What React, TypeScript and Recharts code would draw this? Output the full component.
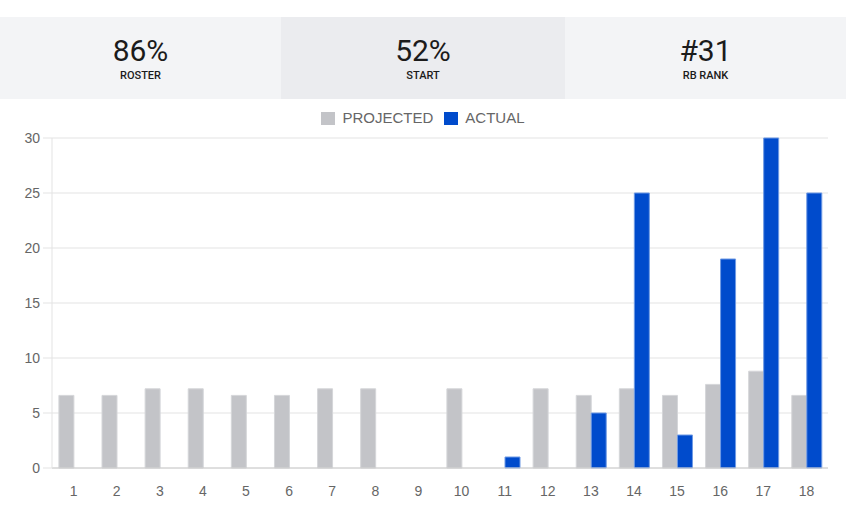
import React from "react";
import { BarChart, Bar, XAxis, YAxis, CartesianGrid } from "recharts";

const weeks = ["1", "2", "3", "4", "5", "6", "7", "8", "9", "10", "11", "12", "13", "14", "15", "16", "17", "18"];
const projected = [6.6, 6.6, 7.2, 7.2, 6.6, 6.6, 7.2, 7.2, null, 7.2, null, 7.2, 6.6, 7.2, 6.6, 7.6, 8.8, 6.6];
const actual = [null, null, null, null, null, null, null, null, null, null, 1, null, 5, 25, 3, 19, 30, 25];
const yTicks = [0, 5, 10, 15, 20, 25, 30];

const stats = [
  { value: "86%", label: "ROSTER" },
  { value: "52%", label: "START" },
  { value: "#31", label: "RB RANK" },
];

const series = [
  { key: "projected", name: "PROJECTED", fill: "#c3c4c8", stroke: "#d5d6d9" },
  { key: "actual", name: "ACTUAL", fill: "#004bcc", stroke: "#6f9ae4" },
];

const data = weeks.map((w, i) => ({ week: w, projected: projected[i], actual: actual[i] }));

const tickStyle = { fill: "#666666", fontSize: 14, fontFamily: "'Liberation Sans', Arial, sans-serif" };

export default function App() {
  return (
    <div style={{ position: "absolute", left: 0, top: 0, width: 846, height: 522, background: "#fff" }}>
      <div style={{ position: "absolute", top: 17, left: 0, width: 846, height: 82, display: "flex" }}>
        {stats.map((s, i) => (
          <div
            key={s.label}
            style={{
              width: i === 1 ? 284 : 281,
              height: 82,
              background: i === 1 ? "#ebecef" : "#f3f4f6",
              textAlign: "center",
              fontFamily: "Roboto, sans-serif",
              color: "#1b1b1b",
            }}
          >
            <div style={{ fontSize: 30, fontWeight: 400, lineHeight: "36px", paddingTop: 16 }}>{s.value}</div>
            <div style={{ fontSize: 11, fontWeight: 500, lineHeight: "11px", marginTop: 1 }}>{s.label}</div>
          </div>
        ))}
      </div>

      <div
        style={{
          position: "absolute",
          top: 110,
          left: 0,
          width: 846,
          display: "flex",
          justifyContent: "center",
          fontFamily: "'Liberation Sans', Arial, sans-serif",
          fontSize: 15,
          color: "#666666",
          lineHeight: "16px",
        }}
      >
        {series.map((s, i) => (
          <div key={s.key} style={{ display: "flex", alignItems: "center", marginLeft: i ? 11 : 0 }}>
            <span style={{ display: "inline-block", width: 14, height: 13, background: s.fill, marginRight: 7 }} />
            <span>{s.name}</span>
          </div>
        ))}
      </div>

      <div style={{ position: "absolute", top: 130, left: 0 }}>
        <BarChart
          width={846}
          height={392}
          data={data}
          margin={{ top: 8, right: 18, bottom: 24, left: 0 }}
          barCategoryGap="16%"
          barGap={0}
        >
          <CartesianGrid stroke="#e3e3e3" vertical={false} />
          <XAxis
            dataKey="week"
            height={30}
            tick={tickStyle}
            tickLine={false}
            tickSize={0}
            tickMargin={18}
            axisLine={{ stroke: "#cccccc" }}
            interval={0}
          />
          <YAxis
            width={52}
            domain={[0, 30]}
            ticks={yTicks}
            tick={tickStyle}
            tickSize={9}
            tickMargin={3}
            tickLine={{ stroke: "#e3e3e3" }}
            axisLine={{ stroke: "#e3e3e3" }}
          />
          {series.map((s) => (
            <Bar
              key={s.key}
              dataKey={s.key}
              name={s.name}
              fill={s.fill}
              stroke={s.stroke}
              strokeWidth={1}
              isAnimationActive={false}
            />
          ))}
        </BarChart>
      </div>
    </div>
  );
}
